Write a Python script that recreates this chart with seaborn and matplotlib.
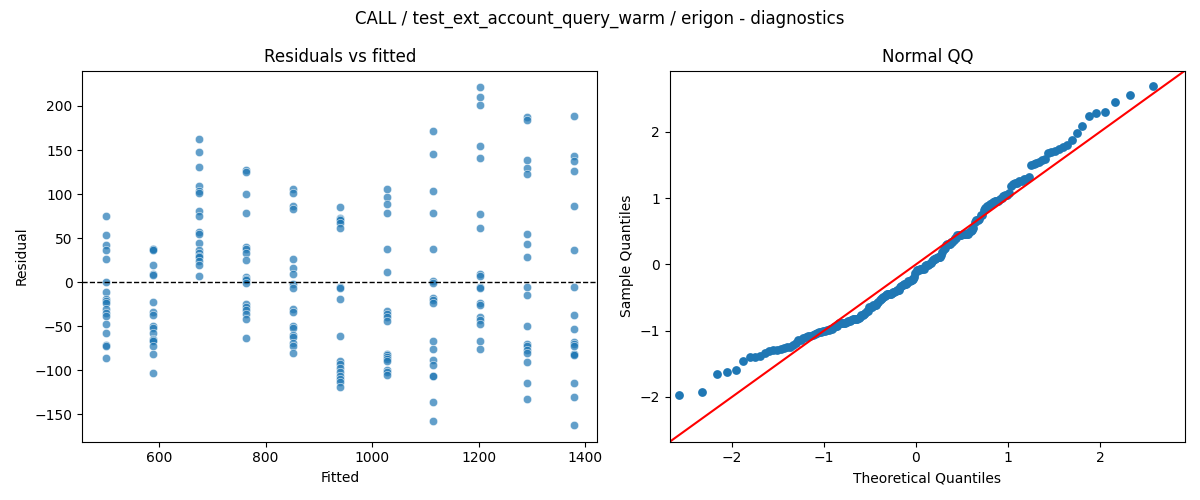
import statistics

import numpy as np
import pandas as pd
import matplotlib
matplotlib.use("Agg")
import matplotlib.pyplot as plt
import seaborn as sns


# ============================
# Dados
# ============================
titulo = "CALL / test_ext_account_query_warm / erigon - diagnostics"

fitted_levels = [500, 588, 676, 764, 852, 939, 1027, 1115, 1203, 1291, 1379]

residuals_by_level = [
    [75, 53, 42, 37, 26, 0, -11, -19, -21, -24, -31, -35, -38, -48, -58, -71, -72, -86],
    [38, 38, 37, 20, 9, 8, -23, -34, -37, -50, -52, -58, -65, -66, -67, -73, -82, -103],
    [163, 148, 131, 109, 104, 101, 81, 75, 57, 55, 45, 36, 33, 30, 28, 24, 19, 7],
    [127, 125, 100, 79, 40, 38, 33, 25, 6, 4, 2, -1, -25, -28, -32, -36, -42, -63],
    [106, 101, 86, 83, 26, 16, 9, -2, -7, -31, -34, -50, -52, -60, -62, -69, -73, -80],
    [85, 73, 72, 70, 67, 61, -5, -7, -19, -61, -90, -93, -97, -102, -106, -110, -113, -119],
    [106, 97, 89, 79, 38, 12, -33, -36, -40, -44, -81, -83, -85, -87, -89, -100, -102, -105],
    [172, 146, 104, 79, 38, 1, -1, -18, -20, -24, -67, -76, -88, -94, -106, -107, -136, -158],
    [221, 210, 201, 154, 141, 77, 61, 9, 7, -6, -7, -24, -26, -39, -43, -47, -67, -76],
    [188, 184, 139, 130, 123, 55, 43, 28, -5, -15, -50, -70, -73, -77, -80, -91, -115, -133],
    [189, 143, 138, 126, 86, 37, -5, -37, -53, -68, -70, -72, -81, -82, -83, -115, -130, -162],
]

linhas = []
for nivel, grupo in zip(fitted_levels, residuals_by_level):
    for r in grupo:
        linhas.append({"fitted": nivel, "residual": r})
df = pd.DataFrame(linhas)

# QQ normal (mesma lógica do statsmodels com fit=True)
res = np.sort(df["residual"].to_numpy(dtype=float))
n = len(res)
media = res.mean()
desvio = res.std()
amostra_q = (res - media) / desvio
nd = statistics.NormalDist()
teorico_q = np.array([nd.inv_cdf(i / (n + 1)) for i in range(1, n + 1)])
df_qq = pd.DataFrame({"teorico": teorico_q, "amostra": amostra_q})

# ============================
# Gráficos
# ============================
fig, (ax1, ax2) = plt.subplots(1, 2, figsize=(12, 5), dpi=100)

sns.scatterplot(data=df, x="fitted", y="residual", alpha=0.7, ax=ax1)
ax1.axhline(0, color="black", linestyle="--", linewidth=1)
ax1.set_title("Residuals vs fitted")
ax1.set_xlabel("Fitted")
ax1.set_ylabel("Residual")

ax2.set_xmargin(0.02)
sns.scatterplot(data=df_qq, x="teorico", y="amostra", s=40, linewidth=0,
                color="#1f77b4", ax=ax2)
xl = ax2.get_xlim()
yl = ax2.get_ylim()
lims = [min(xl[0], yl[0]), max(xl[1], yl[1])]
ax2.plot(lims, lims, color="red")
ax2.set_xlim(lims)
ax2.set_ylim(lims)
ax2.set_title("Normal QQ")
ax2.set_xlabel("Theoretical Quantiles")
ax2.set_ylabel("Sample Quantiles")

fig.suptitle(titulo)
fig.tight_layout()
fig.savefig("out.png")
